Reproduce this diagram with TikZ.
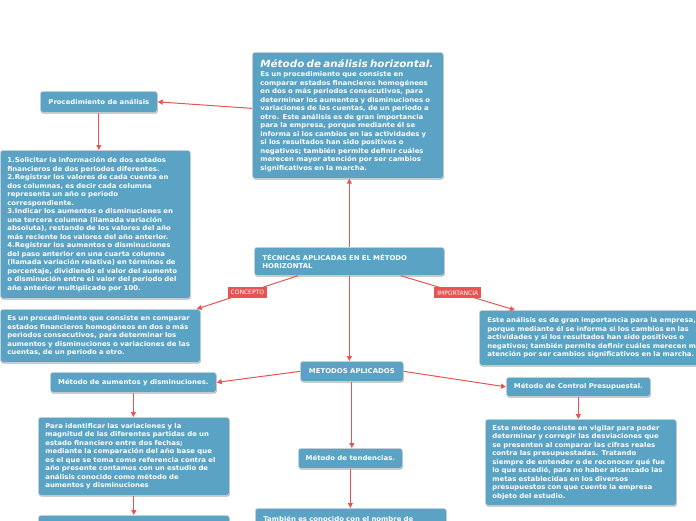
\documentclass[tikz,border=0pt]{standalone}
\usepackage{fontspec}
\setmainfont{DejaVu Sans}
\newfontfamily\boxfamily[FakeStretch=1.05]{DejaVu Sans}
\usetikzlibrary{arrows.meta,calc,shadows}
\definecolor{boxblue}{RGB}{90,163,197}
\definecolor{linkred}{RGB}{232,84,84}
\newcommand{\bodyfont}{\boxfamily\fontsize{6.6}{8.5}\selectfont\bfseries}
\newcommand{\titlefont}{\boxfamily\fontsize{9.9}{11}\selectfont\bfseries\itshape}
\tikzset{
box/.style={fill=boxblue, draw=white!85!black, line width=0.7pt, rounded corners=2.5pt, text=white, font=\bodyfont, inner sep=0pt, drop shadow={shadow xshift=0.5pt, shadow yshift=-1.2pt, opacity=0.3, fill=black}},
textbox/.style={box, anchor=north west, align=left},
labelbox/.style={box, anchor=north west, align=center},
link/.style={draw=linkred, line width=1pt, -{Triangle[length=5pt,width=5pt]}},
tag/.style={fill=linkred, text=white, font=\fontsize{6}{7}\selectfont, inner xsep=3pt, inner ysep=2pt, minimum height=11pt}}

\begin{document}
\begin{tikzpicture}[x=1pt,y=1pt,yscale=-1,xscale=1]
\useasboundingbox (0,0) rectangle (696,520);
\clip (0,0) rectangle (696,520);

% Text Node
\node[textbox, minimum width=191pt, minimum height=126pt, text width=175pt] (main) at (252,52) {{\titlefont Método de análisis horizontal.}\\[1pt]
Es un procedimiento que consiste en\\
comparar estados financieros homogéneos\\
en dos o más periodos consecutivos, para\\
determinar los aumentos y disminuciones o\\
variaciones de las cuentas, de un periodo a\\
otro. Este análisis es de gran importancia\\
para la empresa, porque mediante él se\\
informa si los cambios en las actividades y\\
si los resultados han sido positivos o\\
negativos; también permite definir cuáles\\
merecen mayor atención por ser cambios\\
significativos en la marcha.};
% Text Node
\node[labelbox, minimum width=117pt, minimum height=21pt] (proc) at (40,91) {Procedimiento de análisis};
% Text Node
\node[textbox, minimum width=190pt, minimum height=148pt, text width=176pt] (list) at (0,150) {1.Solicitar la información de dos estados\\
financieros de dos periodos diferentes.\\
2.Registrar los valores de cada cuenta en\\
dos columnas, es decir cada columna\\
representa un año o periodo\\
correspondiente.\\
3.Indicar los aumentos o disminuciones en\\
una tercera columna (llamada variación\\
absoluta), restando de los valores del año\\
más reciente los valores del año anterior.\\
4.Registrar los aumentos o disminuciones\\
del paso anterior en una cuarta columna\\
(llamada variación relativa) en términos de\\
porcentaje, dividiendo el valor del aumento\\
o disminución entre el valor del periodo del\\
año anterior multiplicado por 100.};
% Text Node
\node[textbox, minimum width=190pt, minimum height=28pt, text width=174pt] (tec) at (254,247) {TÉCNICAS APLICADAS EN EL MÉTODO\\ HORIZONTAL};
% Text Node
\node[textbox, minimum width=200pt, minimum height=53pt, text width=186pt] (conc) at (0,309) {Es un procedimiento que consiste en comparar\\
estados financieros homogéneos en dos o más\\
periodos consecutivos, para determinar los\\
aumentos y disminuciones o variaciones de las\\
cuentas, de un periodo a otro.};
% Text Node
\node[textbox, minimum width=260pt, minimum height=55pt, text width=244pt] (imp) at (479,310) {Este análisis es de gran importancia para la empresa,\\
porque mediante él se informa si los cambios en las\\
actividades y si los resultados han sido positivos o\\
negativos; también permite definir cuáles merecen mayor\\
atención por ser cambios significativos en la marcha.};
% Text Node
\node[labelbox, minimum width=103pt, minimum height=20pt] (met) at (300,361) {METODOS APLICADOS};
% Text Node
\node[labelbox, minimum width=166pt, minimum height=20pt] (aum) at (50,372) {Método de aumentos y disminuciones.};
% Text Node
\node[textbox, minimum width=191pt, minimum height=78pt, text width=177pt] (para) at (38,417) {Para identificar las variaciones y la\\
magnitud de las diferentes partidas de un\\
estado financiero entre dos fechas;\\
mediante la comparación del año base que\\
es el que se toma como referencia contra el\\
año presente contamos con un estudio de\\
análisis conocido como método de\\
aumentos y disminuciones};
% Text Node
\node[textbox, minimum width=191pt, minimum height=22pt, text width=175pt] (bl) at (38,515) {};
% Text Node
\node[labelbox, minimum width=104pt, minimum height=20pt] (ten) at (298,448) {Método de tendencias.};
% Text Node
\node[textbox, minimum width=191pt, minimum height=22pt, text width=175pt] (tam) at (255,508) {También es conocido con el nombre de};
% Text Node
\node[labelbox, minimum width=144pt, minimum height=19pt] (ctrl) at (506,377) {Método de Control Presupuestal.};
% Text Node
\node[textbox, minimum width=191pt, minimum height=86pt, text width=177pt] (este) at (485,419) {Este método consiste en vigilar para poder\\
determinar y corregir las desviaciones que\\
se presenten al comparar las cifras reales\\
contra las presupuestadas. Tratando\\
siempre de entender o de reconocer qué fue\\
lo que sucedió, para no haber alcanzado las\\
metas establecidas en los diversos\\
presupuestos con que cuente la empresa\\
objeto del estudio.};

%Straight Lines
\draw[link] ($(main.west)+(0,-7)$) -- (proc.east);
\draw[link] (proc.south) -- (proc.south |- list.north);
\draw[link] (tec.north) -- (tec.north |- main.south);
\draw[link] ($(tec.south west)+(44,0)$) -- ($(conc.north east)+(-4,0)$) node[tag, midway] {CONCEPTO};
\draw[link] ($(tec.south east)+(-44,0)$) -- ($(imp.north west)+(36,0)$) node[tag, midway] {IMPORTANCIA};
\draw[link] (tec.south) -- (tec.south |- met.north);
\draw[link] (met.west) -- (aum.east);
\draw[link] (met.east) -- (ctrl.west);
\draw[link] (met.south) -- (met.south |- ten.north);
\draw[link] (aum.south) -- (aum.south |- para.north);
\draw[link] (para.south) -- (para.south |- bl.north);
\draw[link] (ten.south) -- (ten.south |- tam.north);
\draw[link] (ctrl.south) -- (ctrl.south |- este.north);

\end{tikzpicture}
\end{document}
